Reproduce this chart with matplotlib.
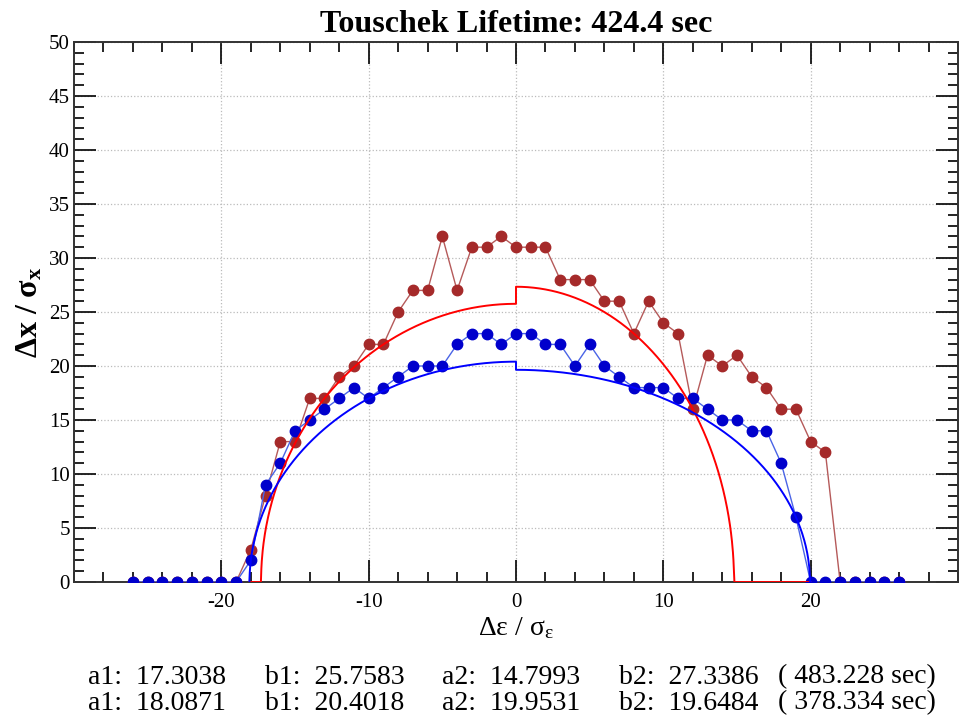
import numpy as np
import matplotlib
matplotlib.use("Agg")
import matplotlib.pyplot as plt
from matplotlib.ticker import MultipleLocator

plt.rcParams['font.family'] = ['Liberation Serif', 'DejaVu Serif']
plt.rcParams['mathtext.fontset'] = 'custom'
plt.rcParams['mathtext.rm'] = 'Liberation Serif'
plt.rcParams['mathtext.it'] = 'Liberation Serif:italic'
plt.rcParams['mathtext.bf'] = 'Liberation Serif:bold'
plt.rcParams['axes.unicode_minus'] = False

# ---- data ----
x_pts = list(range(-26, 27))
red_vals = [0]*8 + [3, 8, 13, 13, 17, 17, 19, 20, 22, 22, 25, 27, 27, 32, 27, 31, 31, 32,
                    31, 31, 31, 28, 28, 28, 26, 26, 23, 26, 24, 23, 16, 21, 20, 21, 19, 18,
                    16, 16, 13, 12] + [0]*5
blue_vals = [0]*8 + [2, 9, 11, 14, 15, 16, 17, 18, 17, 18, 19, 20, 20, 20, 22, 23, 23, 22,
                     23, 23, 22, 22, 20, 22, 20, 19, 18, 18, 18, 17, 17, 16, 15, 15, 14, 14,
                     11, 6, 0] + [0]*6

# fit parameters (shown under the plot)
red_fit = dict(a1=17.3038, b1=25.7583, a2=14.7993, b2=27.3386, life=483.228)
blue_fit = dict(a1=18.0871, b1=20.4018, a2=19.9531, b2=19.6484, life=378.334)
fit_range = (-18.1, 20.0)
x_ticks = [-20, -10, 0, 10, 20]
title = "Touschek Lifetime: 424.4 sec"


def fit_curve(p):
    xl = np.linspace(fit_range[0], 0, 600)
    xr = np.linspace(0, fit_range[1], 600)
    yl = p['b1'] * np.sqrt(np.clip(1 - (xl / p['a1'])**2, 0, None))
    yr = p['b2'] * np.sqrt(np.clip(1 - (xr / p['a2'])**2, 0, None))
    return np.concatenate([xl, xr]), np.concatenate([yl, yr])


fig = plt.figure(figsize=(9.7, 7.2), dpi=100)
ax = fig.add_axes([74/970, 1-582/720, (958-74)/970, (582-42)/720])

ax.plot(x_pts, red_vals, '-', color='#b55a5a', lw=1.0, zorder=3)
ax.plot(x_pts, red_vals, 'o', color='#a52a2a', ms=7.5, zorder=4)
ax.plot(x_pts, blue_vals, '-', color='#4a64e6', lw=1.0, zorder=5)
ax.plot(x_pts, blue_vals, 'o', color='#0000cc', ms=7.5, zorder=6)

xc, yc = fit_curve(red_fit)
ax.plot(xc, yc, '-', color='#ff0000', lw=1.4, zorder=7)
xc, yc = fit_curve(blue_fit)
ax.plot(xc, yc, '-', color='#0000ff', lw=1.4, zorder=7)

ax.set_xlim(-30, 30)
ax.set_ylim(0, 50)
ax.set_xticks(x_ticks)
ax.xaxis.set_minor_locator(MultipleLocator(2))
ax.yaxis.set_major_locator(MultipleLocator(5))
ax.yaxis.set_minor_locator(MultipleLocator(1))
ax.tick_params(which='both', direction='in', top=True, right=True, labelsize=15, width=1.2)
ax.tick_params(which='major', length=16)
ax.tick_params(which='minor', length=7)
ax.tick_params(axis='x', pad=8)
ax.tick_params(axis='y', pad=3)
for s in ax.spines.values():
    s.set_linewidth(1.4)
    s.set_color('#333333')
ax.grid(True, which='major', linestyle=':', color='#bbbbbb', lw=0.9)

ax.set_title(title, fontsize=23, fontweight='bold', pad=7)
ax.set_xlabel('Δε / σ$_\\mathrm{ε}$', fontsize=20, labelpad=2)
ax.set_ylabel('Δx / σ$_\\mathbf{x}$', fontsize=23, fontweight='bold', labelpad=3)

cols = [88, 265, 442, 619]
for row, p in enumerate([red_fit, blue_fit]):
    y = 1 - (677 + 26*row)/720
    texts = [f"a1:  {p['a1']:.4f}", f"b1:  {p['b1']:.4f}", f"a2:  {p['a2']:.4f}",
             f"b2:  {p['b2']:.4f}"]
    for cx, t in zip(cols, texts):
        fig.text(cx/970, y, t, fontsize=20, ha='left', va='center')
    fig.text(936/970, y, f"( {p['life']:.3f} sec)", fontsize=20, ha='right', va='center')

fig.savefig('out.png', dpi=100)
